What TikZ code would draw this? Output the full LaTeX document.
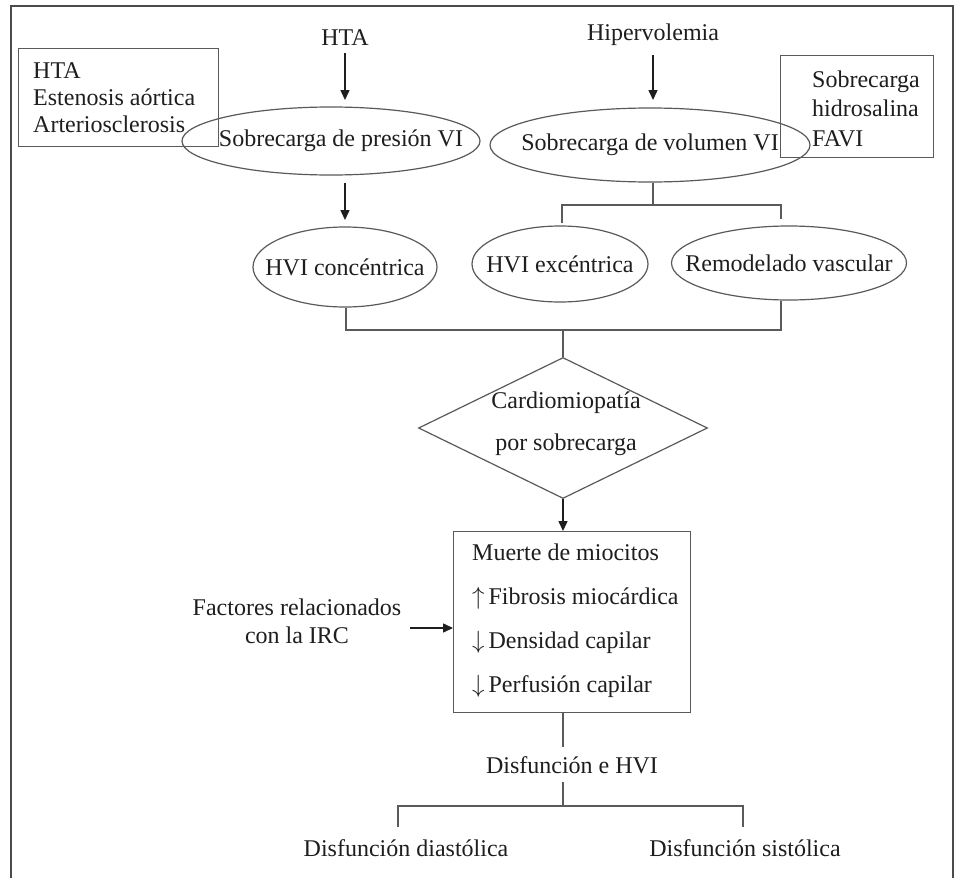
\documentclass[tikz,border=0pt]{standalone}
\usepackage{fontspec}
\setmainfont{Liberation Serif}
\usetikzlibrary{shapes.geometric,arrows.meta}
\definecolor{txtc}{HTML}{1E1E1E}
\definecolor{linec}{HTML}{5A5A5A}
\tikzset{
  every node/.style={text=txtc},
  txt/.style={font=\fontsize{24}{27}\selectfont, inner sep=0pt},
  ell/.style={draw=linec, line width=1.2pt, ellipse, inner sep=0pt, font=\fontsize{24}{27}\selectfont},
  boxed/.style={draw=linec, line width=1.2pt, rectangle, inner sep=0pt},
  conn/.style={draw=linec, line width=1.5pt},
  arr/.style={draw=txtc, line width=1.5pt, -{Triangle[width=9pt,length=10pt]}},
}
\begin{document}
\begin{tikzpicture}[x=1pt,y=-1pt]
\useasboundingbox (0,0) rectangle (956,878);
\fill[white] (0,0) rectangle (956,878);
% outer frame (open at the bottom)
\draw[draw=txtc!80, line width=2pt] (10.5,878) -- (10.5,6) -- (953,6) -- (953,878);

% top labels
\node[txt] (hta) at (345,38) {HTA};
\node[txt] (hiper) at (653,35) {Hipervolemia};

% side boxes
\node[boxed, anchor=north west, minimum width=200pt, minimum height=98pt] (lbox) at (18,48) {};
\node[txt, align=left, anchor=north west] (lboxt) at (33,62) {HTA\\Estenosis aórtica\\Arteriosclerosis};
\node[boxed, anchor=north west, minimum width=153pt, minimum height=102pt] (rbox) at (780,55) {};
\node[txt, align=left, anchor=north west, font=\fontsize{24}{29.5}\selectfont] (rboxt) at (812,70.5) {Sobrecarga\\hidrosalina\\FAVI};

% overload ellipses
\node[ell, minimum width=298pt, minimum height=68pt] (e1) at (331,141) {\makebox[0pt]{\hspace*{20pt}Sobrecarga de presión VI}};
\node[ell, minimum width=320pt, minimum height=74pt] (e2) at (650,145) {\makebox[0pt]{Sobrecarga de volumen VI}};

% second row ellipses
\node[ell, minimum width=184pt, minimum height=80pt] (conc) at (345,267) {\makebox[0pt]{HVI concéntrica}};
\node[ell, minimum width=176pt, minimum height=76pt] (exc) at (560,264) {\makebox[0pt]{HVI excéntrica}};
\node[ell, minimum width=235pt, minimum height=74pt] (remo) at (789,263) {\makebox[0pt]{Remodelado vascular}};

% diamond
\node[draw=linec, line width=1.2pt, diamond, minimum width=289pt, minimum height=141pt, inner sep=0pt] (dia) at (563,428) {};
\node[txt, align=center, font=\fontsize{24}{42}\selectfont] (diat) at (566,424) {Cardiomiopatía\\por sobrecarga};

% central box
\node[boxed, anchor=north west, minimum width=237pt, minimum height=181pt] (mb) at (453,531) {};
\node[txt, align=left, anchor=north west, font=\fontsize{24}{44}\selectfont] (mbt) at (472,543.6) {Muerte de miocitos\\$\uparrow$\,Fibrosis miocárdica\\$\downarrow$\,Densidad capilar\\$\downarrow$\,Perfusión capilar};

% factors
\node[txt, align=center, anchor=north, font=\fontsize{24}{28}\selectfont] (fac) at (297,598.6) {Factores relacionados\\con la IRC};

% bottom texts
\node[txt] (dhvi) at (572,765) {Disfunción e HVI};
\node[txt] (ddia) at (406,848) {Disfunción diastólica};
\node[txt] (dsis) at (745,848) {Disfunción sistólica};

% arrows
\coordinate (htaS) at (345,53);
\coordinate (htaE) at (345,100);
\draw[arr] (htaS) -- (htaE);
\coordinate (hipS) at (653,55);
\coordinate (hipE) at (653,100);
\draw[arr] (hipS) -- (hipE);
\coordinate (e1S) at (345,183);
\coordinate (concN) at (345,220);
\draw[arr] (e1S) -- (concN);

% volume overload branches
\coordinate (j1) at (653,205);
\coordinate (jl) at (562,205);
\coordinate (jr) at (781,205);
\coordinate (excN) at (562,223);
\coordinate (remoN) at (781,219);
\draw[conn] (e2.south -| j1) -- (j1);
\draw[conn] (excN) -- (jl) -- (jr) -- (remoN);

% merge to diamond
\coordinate (m1) at (346,330);
\coordinate (m2) at (781,330);
\coordinate (mc) at (563,330);
\draw[conn] (conc.south -| m1) -- (m1) -- (m2) -- (remo.south -| m2);
\draw[conn] (mc) -- (dia.north);

% diamond to box
\draw[arr] (dia.south) -- (dia.south |- mb.north);

% factors arrow
\coordinate (facA) at (410,628);
\draw[arr] (facA) -- (facA -| mb.west);

% bottom tree
\coordinate (b1) at (563,747);
\draw[conn] (mb.south -| b1) -- (b1);
\coordinate (b2) at (563,782);
\coordinate (b3) at (563,806);
\coordinate (bl) at (398,806);
\coordinate (br) at (743,806);
\coordinate (blE) at (398,827);
\coordinate (brE) at (743,827);
\draw[conn] (b2) -- (b3);
\draw[conn] (blE) -- (bl) -- (br) -- (brE);
\end{tikzpicture}
\end{document}
